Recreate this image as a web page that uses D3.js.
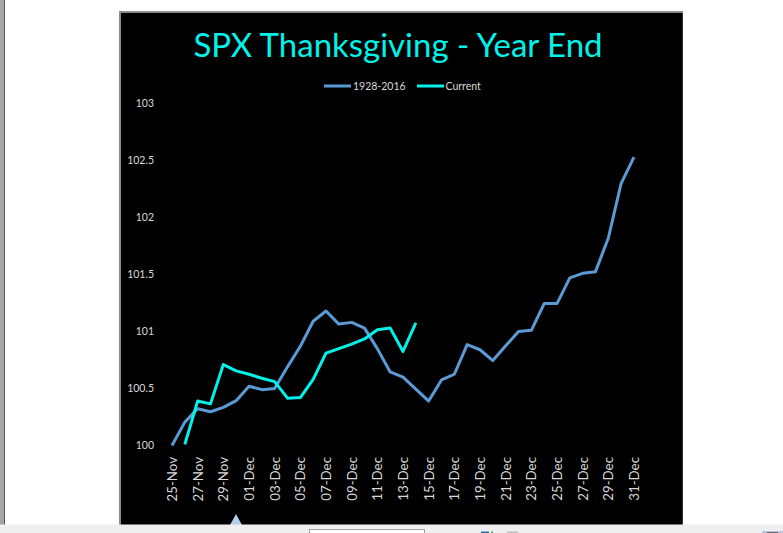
<!DOCTYPE html>
<html>
<head>
<meta charset="utf-8">
<script src="https://cdnjs.cloudflare.com/ajax/libs/d3/7.8.5/d3.min.js"></script>
<style>
  html, body { margin: 0; padding: 0; background: #fff; overflow: hidden; }
  text { font-family: Lato, "Open Sans", sans-serif; }
  .tick text { fill: #d9d9d9; font-size: 10.5px; }
</style>
</head>
<body>
<div id="chart"></div>
<script>
var svgWidth = 783;
var svgHeight = 533;

// one entry per calendar day, 25-Nov to 31-Dec
var dates = ["25-Nov","26-Nov","27-Nov","28-Nov","29-Nov","30-Nov","01-Dec","02-Dec","03-Dec","04-Dec",
  "05-Dec","06-Dec","07-Dec","08-Dec","09-Dec","10-Dec","11-Dec","12-Dec","13-Dec","14-Dec","15-Dec",
  "16-Dec","17-Dec","18-Dec","19-Dec","20-Dec","21-Dec","22-Dec","23-Dec","24-Dec","25-Dec","26-Dec",
  "27-Dec","28-Dec","29-Dec","30-Dec","31-Dec"];
var longRun = [100, 100.205, 100.322, 100.296, 100.335, 100.393, 100.52, 100.49, 100.5, 100.69,
  100.87, 101.09, 101.18, 101.065, 101.08, 101.03, 100.85, 100.645, 100.6, 100.495, 100.39,
  100.575, 100.625, 100.885, 100.84, 100.745, 100.875, 101, 101.01, 101.245, 101.245, 101.47,
  101.51, 101.525, 101.82, 102.3, 102.53];
// current year starts a day later and stops at 14-Dec
var currentDates = dates.slice(1, 20);
var currentYear = [100.01, 100.39, 100.365, 100.71, 100.655, 100.625, 100.59, 100.56, 100.415, 100.42,
  100.58, 100.81, 100.85, 100.89, 100.935, 101.015, 101.03, 100.825, 101.075];
var yTicks = [100, 100.5, 101, 101.5, 102, 102.5, 103];

var seriesNames = ["1928-2016", "Current"];
var blue = "#5b9bd5";
var cyan = "#00f2ea";

var svg = d3.select("#chart").append("svg")
  .attr("width", svgWidth)
  .attr("height", svgHeight)
  .style("display", "block");

// black chart panel, grey edge on the top and left
svg.append("rect")
  .attr("x", 119).attr("y", 11)
  .attr("width", 564).attr("height", 514)
  .attr("fill", "#8c8c8c");
svg.append("rect")
  .attr("x", 121).attr("y", 13)
  .attr("width", 562).attr("height", 512)
  .attr("fill", "#000");
svg.append("rect")
  .attr("x", 682).attr("y", 13)
  .attr("width", 1).attr("height", 512)
  .attr("fill", "#333");

var xScale = d3.scalePoint().domain(dates).range([172, 634]);
var yScale = d3.scaleLinear().domain([100, 103]).range([445.5, 103.5]);

var xAxis = d3.axisBottom(xScale)
  .tickValues(dates.filter((d, i) => i % 2 == 0))
  .tickSize(0);
var leftAxis = d3.axisLeft(yScale)
  .tickValues(yTicks)
  .tickFormat(d => d)
  .tickSize(0);

var xGroup = svg.append("g")
  .attr("transform", "translate(0, 450)")
  .call(xAxis);
xGroup.select(".domain").remove();
xGroup.selectAll("text")
  .attr("transform", "rotate(-90)")
  .attr("text-anchor", "end")
  .attr("x", -7)
  .attr("y", 0)
  .attr("dy", "0.35em")
  .style("font-size", "13.3px");

var yGroup = svg.append("g")
  .attr("transform", "translate(158, 0)")
  .call(leftAxis);
yGroup.select(".domain").remove();
yGroup.selectAll("text").attr("x", -4);

var line = d3.line()
  .x(d => xScale(d.date))
  .y(d => yScale(d.value));

function drawSeries(xs, ys, color) {
  svg.append("path")
    .datum(ys.map((v, i) => ({ date: xs[i], value: v })))
    .attr("d", line)
    .attr("fill", "none")
    .attr("stroke", color)
    .attr("stroke-width", 3)
    .attr("stroke-linejoin", "round");
}
drawSeries(dates, longRun, blue);
drawSeries(currentDates, currentYear, cyan);

// title
svg.append("text")
  .attr("x", 398).attr("y", 57)
  .attr("text-anchor", "middle")
  .attr("fill", cyan)
  .style("font-size", "33px")
  .text("SPX Thanksgiving - Year End");

// legend
var legend = [
  { x1: 324, x2: 351, tx: 353, color: blue },
  { x1: 417, x2: 444, tx: 445.5, color: cyan }
];
legend.forEach(function(l, i) {
  svg.append("line")
    .attr("x1", l.x1).attr("x2", l.x2)
    .attr("y1", 86).attr("y2", 86)
    .attr("stroke", l.color)
    .attr("stroke-width", 3);
  svg.append("text")
    .attr("x", l.tx).attr("y", 89.5)
    .attr("fill", "#d9d9d9")
    .style("font-size", "10.5px")
    .text(seriesNames[i]);
});

// window chrome around the chart
svg.append("rect").attr("x", 0).attr("y", 0).attr("width", 4).attr("height", 525).attr("fill", "#a6a6a6");
svg.append("rect").attr("x", 4).attr("y", 0).attr("width", 1).attr("height", 525).attr("fill", "#555");
svg.append("path").attr("d", "M236 514L242 525L230 525Z").attr("fill", "#b4cdea");
svg.append("rect").attr("x", 0).attr("y", 524.5).attr("width", 783).attr("height", 8.5).attr("fill", "#efefef");
svg.append("rect").attr("x", 309.5).attr("y", 529.5).attr("width", 115).attr("height", 6)
  .attr("fill", "#fff").attr("stroke", "#a0a0a0");
svg.append("rect").attr("x", 481).attr("y", 531.5).attr("width", 8).attr("height", 1.5).attr("fill", "#2a6fa8");
svg.append("rect").attr("x", 491).attr("y", 531.5).attr("width", 2).attr("height", 1.5).attr("fill", "#3aa86a");
svg.append("rect").attr("x", 507).attr("y", 531.5).attr("width", 11).attr("height", 1.5).attr("fill", "#bdbdbd");
svg.append("rect").attr("x", 762).attr("y", 531).attr("width", 21).attr("height", 2).attr("fill", "#b8c4e2");
svg.append("rect").attr("x", 767).attr("y", 532).attr("width", 11).attr("height", 1).attr("fill", "#666");
</script>
</body>
</html>
